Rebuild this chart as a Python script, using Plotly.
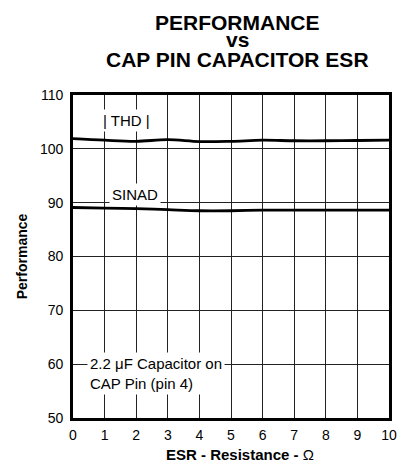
import plotly.graph_objects as go

esr = [0, 1, 2, 3, 4, 5, 6, 7, 8, 9, 10]
thd = [101.9, 101.6, 101.4, 101.7, 101.35, 101.4, 101.6, 101.5, 101.5, 101.55, 101.6]
sinad = [89.1, 89.0, 88.9, 88.7, 88.5, 88.5, 88.6, 88.6, 88.6, 88.6, 88.6]
x_ticks = [0, 1, 2, 3, 4, 5, 6, 7, 8, 9, 10]
y_ticks = [50, 60, 70, 80, 90, 100, 110]
title_lines = ["PERFORMANCE", "vs", "CAP PIN CAPACITOR ESR"]

FONT = "Liberation Sans, Arial, sans-serif"

fig = go.Figure()
fig.add_trace(go.Scatter(x=esr, y=thd, mode="lines", line=dict(color="black", width=2.8, shape="spline"),
                         name="THD", showlegend=False))
fig.add_trace(go.Scatter(x=esr, y=sinad, mode="lines", line=dict(color="black", width=2.8, shape="spline"),
                         name="SINAD", showlegend=False))

fig.add_annotation(x=1.68, y=105.2, text="| THD |", showarrow=False, bgcolor="white", borderpad=2,
                   font=dict(size=15, color="black", family=FONT))
fig.add_annotation(x=1.97, y=91.6, text="SINAD", showarrow=False, bgcolor="white", borderpad=2,
                   font=dict(size=15, color="black", family=FONT))
fig.add_annotation(x=0.45, y=58.25, text="2.2 μF Capacitor on<br>CAP Pin (pin 4)", showarrow=False,
                   xanchor="left", align="left", bgcolor="white", borderpad=2,
                   font=dict(size=15, color="black", family=FONT))

title_y = [14, 31, 51]
for txt, yp in zip(title_lines, title_y):
    fig.add_annotation(text="<b>%s</b>" % txt, xref="paper", yref="paper", x=0.52,
                       y=1 + (87 - yp) / 323.0, xanchor="center", yanchor="middle", showarrow=False,
                       font=dict(size=21, color="black", family=FONT))

fig.add_annotation(text="<b>ESR - Resistance - </b>Ω", xref="paper", yref="paper", x=0.53,
                   y=-36 / 323.0, xanchor="center", yanchor="middle", showarrow=False,
                   font=dict(size=15, color="black", family=FONT))

fig.update_layout(
    width=399, height=456,
    margin=dict(l=65, r=10, t=87, b=46),
    paper_bgcolor="white", plot_bgcolor="white",
    font=dict(family=FONT, color="black"),
)
fig.update_xaxes(range=[0, 10], tickvals=x_ticks, ticks="", showgrid=True, gridcolor="#222", gridwidth=1,
                 showline=True, linecolor="black", linewidth=2.8, mirror=True, zeroline=False,
                 tickfont=dict(size=14, color="black"), ticklabelstandoff=2)
fig.update_yaxes(range=[50, 110], tickvals=y_ticks, ticks="", showgrid=True, gridcolor="#222", gridwidth=1,
                 showline=True, linecolor="black", linewidth=2.8, mirror=True, zeroline=False,
                 tickfont=dict(size=14, color="black"), ticklabelstandoff=4,
                 title=dict(text="<b>Performance</b>", font=dict(size=14, color="black"), standoff=10))

fig.write_html("out.html")
